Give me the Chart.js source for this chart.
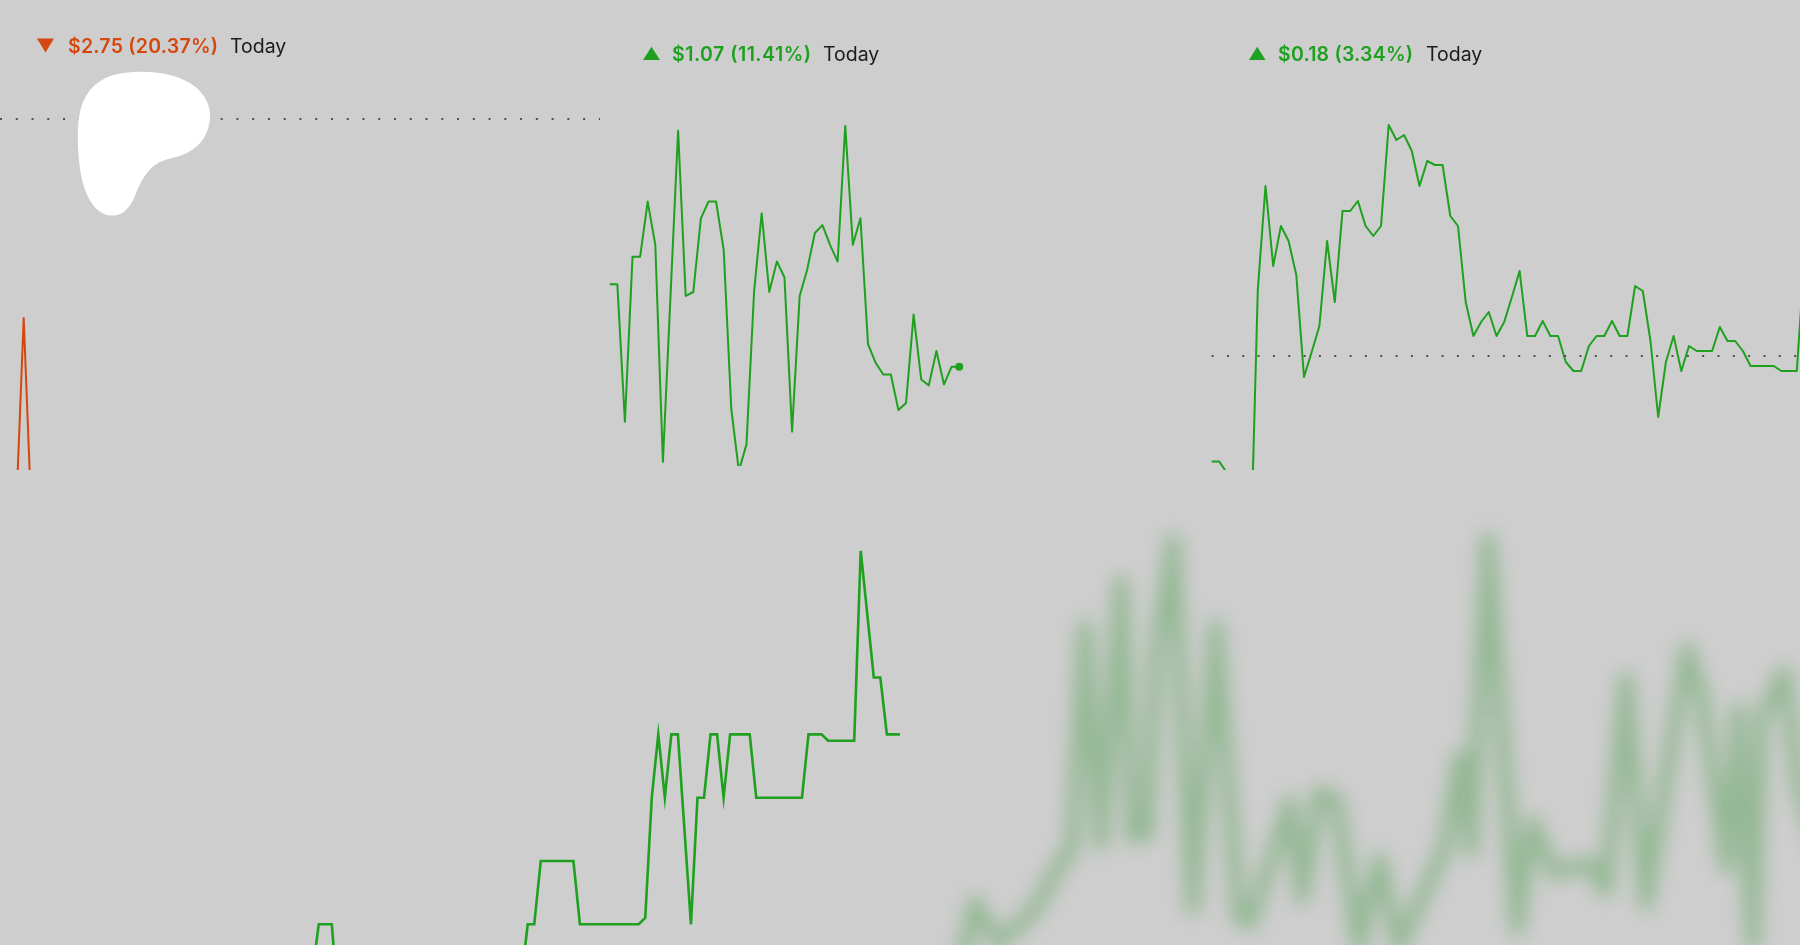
<!DOCTYPE html>
<html>
<head>
<meta charset="utf-8">
<script src="https://cdn.jsdelivr.net/npm/chart.js@4.4.1/dist/chart.umd.min.js"></script>
<style>
  html, body { margin: 0; padding: 0; width: 1800px; height: 945px; overflow: hidden; background: #cecece; }
  body { position: relative; }
  canvas { position: absolute; display: block; }
  #overlay { position: absolute; left: 0; top: 0; pointer-events: none; }
  #haze { position: absolute; left: 906px; top: 812px; width: 132px; height: 36px;
          background: rgba(255,255,255,0.03); filter: blur(1.5px); }
</style>
</head>
<body>
<canvas id="c1" width="600" height="470" style="left:0px;top:0px"></canvas>
<canvas id="c2" width="600" height="470" style="left:600px;top:0px"></canvas>
<canvas id="c3" width="600" height="470" style="left:1200px;top:0px"></canvas>
<canvas id="c4" width="905" height="475" style="left:0px;top:470px"></canvas>
<div id="haze"></div>
<canvas id="c5" width="1000" height="560" style="left:850px;top:430px;filter:blur(9px)"></canvas>

<svg id="overlay" width="1800" height="945" xmlns="http://www.w3.org/2000/svg">
  <!-- decorative blob -->
  <path d="M140,71.7 C185,71 212,92 210,118 C208,145 188,155 170,158.5 C150,163 142,178 135,196
           C128,212 120,216 111.7,215.5 C95,215 82,195 79,160 C76,125 78,100 95,85 C108,74 122,72 140,71.7 Z"
        fill="#ffffff"/>
  <!-- change indicators -->
  <polygon points="37,38.5 54,38.5 45.5,52.5" fill="#d4470f"/>
  <polygon points="643,60 660,60 651.5,46.7" fill="#1fa01f"/>
  <polygon points="1249,60 1265.5,60 1257.2,46.7" fill="#1fa01f"/>
  <g font-family="Inter, 'Noto Sans', sans-serif">
    <text id="t1a" x="68" y="53" fill="#d4470f" font-weight="600" font-size="19.5" textLength="150" lengthAdjust="spacing"></text>
    <text id="t1b" x="230" y="53" fill="#1c1c1c" font-size="19.5"></text>
    <text id="t2a" x="672" y="60.6" fill="#1fa01f" font-weight="600" font-size="19.5" textLength="139" lengthAdjust="spacing"></text>
    <text id="t2b" x="823" y="60.6" fill="#1c1c1c" font-size="19.5"></text>
    <text id="t3a" x="1278" y="60.8" fill="#1fa01f" font-weight="600" font-size="19.5" textLength="135" lengthAdjust="spacing"></text>
    <text id="t3b" x="1426" y="60.8" fill="#1c1c1c" font-size="19.5"></text>
  </g>
</svg>

<script>
// ---------------- DATA ----------------
// Panel 1 (falling stock) – only the spike rises into view
const p1Prices = [9.53, 11.51, 9.53];
const p1PrevClose = 13.50;
const p1Change = "$2.75 (20.37%)";

// Panel 2 (rising stock)
const p2Prices = [11.29, 11.29, 9.89, 11.57, 11.57, 12.13, 11.69, 9.48, 11.17, 12.85,
                  11.17, 11.21, 11.96, 12.13, 12.13, 11.64, 10.02, 9.39, 9.66, 11.21,
                  12.01, 11.21, 11.52, 11.36, 9.79, 11.17, 11.44, 11.81, 11.89, 11.69,
                  11.52, 12.90, 11.69, 11.96, 10.68, 10.49, 10.37, 10.37, 10.01, 10.08,
                  10.98, 10.32, 10.26, 10.61, 10.27, 10.45, 10.45];
const p2Change = "$1.07 (11.41%)";

// Panel 3 (slightly rising stock)
const p3Prices = [4.862, 4.862, 4.805, 4.62, 4.42, 4.29, 5.72, 6.24, 5.84, 6.04,
                  5.965, 5.795, 5.285, 5.41, 5.54, 5.965, 5.66, 6.115, 6.115, 6.165,
                  6.04, 5.99, 6.04, 6.545, 6.47, 6.495, 6.415, 6.24, 6.365, 6.345,
                  6.345, 6.09, 6.04, 5.66, 5.49, 5.56, 5.61, 5.49, 5.56, 5.685,
                  5.815, 5.49, 5.49, 5.565, 5.49, 5.49, 5.36, 5.315, 5.315, 5.44,
                  5.49, 5.49, 5.565, 5.49, 5.49, 5.74, 5.715, 5.465, 5.085, 5.36,
                  5.49, 5.315, 5.44, 5.415, 5.415, 5.415, 5.535, 5.465, 5.465, 5.415,
                  5.34, 5.34, 5.34, 5.34, 5.315, 5.315, 5.315, 5.89];
const p3PrevClose = 5.39;
const p3Change = "$0.18 (3.34%)";

const todayLabel = "Today";

// Bottom-left (step-like penny stock)
const blPrices = [0.502, 0.51, 0.51, 0.51, 0.497,
                  0.50, 0.50, 0.50, 0.50, 0.50, 0.50, 0.50, 0.50, 0.50,
                  0.50, 0.50, 0.50, 0.50, 0.50, 0.50, 0.50, 0.50, 0.50,
                  0.50, 0.50, 0.50, 0.50, 0.50, 0.50, 0.50, 0.50, 0.50,
                  0.501, 0.51, 0.51,
                  0.52, 0.52, 0.52, 0.52, 0.52, 0.52,
                  0.51, 0.51, 0.51, 0.51, 0.51, 0.51, 0.51, 0.51, 0.51, 0.51,
                  0.511, 0.53,
                  0.54, 0.53, 0.54, 0.54, 0.525, 0.51, 0.53, 0.53, 0.54, 0.54,
                  0.53, 0.54, 0.54, 0.54, 0.54,
                  0.53, 0.53, 0.53, 0.53, 0.53, 0.53, 0.53, 0.53,
                  0.54, 0.54, 0.54,
                  0.539, 0.539, 0.539, 0.539, 0.539,
                  0.569, 0.559, 0.549, 0.549, 0.54, 0.54, 0.54];

// Bottom-right (blurred chart): time offsets and values
const brTimes  = [58, 75, 98, 132, 161, 172, 185, 201, 221, 233,
                  247, 256, 273, 293, 316, 339, 350, 390, 402, 419,
                  436, 459, 479, 499, 545, 560, 571, 588, 617, 632,
                  654, 689, 706, 726, 746, 787, 801, 827, 838, 853,
                  861, 884, 900, 920];
const brValues = [-35, 42, 2, 32, 82, 98, 318, 102, 362, 108,
                  112, 292, 403, 38, 318, 28, 22, 142, 48, 152,
                  145, -2, 85, -2, 98, 188, 95, 405, 17, 122,
                  72, 82, 55, 265, 42, 295, 252, 78, 235, 2,
                  225, 272, 155, 95];

// ---------------- STYLE / LAYOUT ----------------
const GREEN = "#1fa01f";
const ORANGE = "#d4470f";
const DOT = "#505050";

// geometry: canvas box, pixel x of slot 0, slot step, value at bottom edge, pixels per unit
const geo = {
  c1: { left: 0,    top: 0,   w: 600,  h: 470, x0: 16,     step: 7.7,  yBottom: 9.99,    ppu: 100 },
  c2: { left: 600,  top: 0,   w: 600,  h: 470, x0: 605.8,  step: 7.7,  yBottom: 9.44,    ppu: 100 },
  c3: { left: 1200, top: 0,   w: 600,  h: 470, x0: 1211.6, step: 7.7,  yBottom: 4.82,    ppu: 200 },
  c4: { left: 0,    top: 470, w: 905,  h: 475, x0: 312.21, step: 6.53, yBottom: 0.50673, ppu: 6330 },
  c5: { left: 850,  top: 430, w: 1000, h: 560, x0: 900,    step: 1,    yBottom: -45,     ppu: 1 }
};
function ranges(g) {
  return {
    xMin: (g.left - g.x0) / g.step,
    xMax: (g.left + g.w - g.x0) / g.step,
    yMin: g.yBottom,
    yMax: g.yBottom + g.h / g.ppu
  };
}
const indexed = arr => arr.map((v, i) => ({ x: i, y: v }));

function lineChart(id, datasets) {
  const r = ranges(geo[id]);
  return new Chart(document.getElementById(id), {
    type: "line",
    data: { datasets: datasets(r) },
    options: {
      responsive: false, animation: false, devicePixelRatio: 1, events: [],
      layout: { padding: 0 },
      plugins: { legend: { display: false }, tooltip: { enabled: false }, title: { display: false } },
      scales: {
        x: { type: "linear", display: false, min: r.xMin, max: r.xMax },
        y: { type: "linear", display: false, min: r.yMin, max: r.yMax }
      },
      elements: { point: { radius: 0 }, line: { tension: 0 } }
    }
  });
}

// Panel 1
lineChart("c1", r => [
  { data: [{ x: r.xMin, y: p1PrevClose }, { x: r.xMax, y: p1PrevClose }],
    borderColor: DOT, borderWidth: 2, borderDash: [2, 13.76], pointRadius: 0 },
  { data: indexed(p1Prices), borderColor: ORANGE, borderWidth: 2, borderJoinStyle: "round", pointRadius: 0 }
]);

// Panel 2
lineChart("c2", r => [
  { data: indexed(p2Prices), borderColor: GREEN, borderWidth: 2, borderJoinStyle: "round",
    pointRadius: ctx => ctx.dataIndex === p2Prices.length - 1 ? 4 : 0,
    pointBackgroundColor: GREEN, pointBorderWidth: 0 }
]);

// Panel 3
lineChart("c3", r => [
  { data: [{ x: 0, y: p3PrevClose }, { x: r.xMax, y: p3PrevClose }],
    borderColor: DOT, borderWidth: 2, borderDash: [2, 13.33], pointRadius: 0 },
  { data: indexed(p3Prices), borderColor: GREEN, borderWidth: 2, borderJoinStyle: "round", pointRadius: 0 }
]);

// Bottom-left
lineChart("c4", r => [
  { data: indexed(blPrices), borderColor: GREEN, borderWidth: 2.6, borderJoinStyle: "miter", pointRadius: 0 }
]);

// Bottom-right (blurred)
lineChart("c5", r => [
  { data: brValues.map((v, i) => ({ x: brTimes[i], y: v })),
    borderColor: "rgba(70,155,70,0.42)", borderWidth: 15, borderJoinStyle: "round", borderCapStyle: "round",
    pointRadius: 0 }
]);

// texts
document.getElementById("t1a").textContent = p1Change;
document.getElementById("t1b").textContent = todayLabel;
document.getElementById("t2a").textContent = p2Change;
document.getElementById("t2b").textContent = todayLabel;
document.getElementById("t3a").textContent = p3Change;
document.getElementById("t3b").textContent = todayLabel;
</script>
</body>
</html>
